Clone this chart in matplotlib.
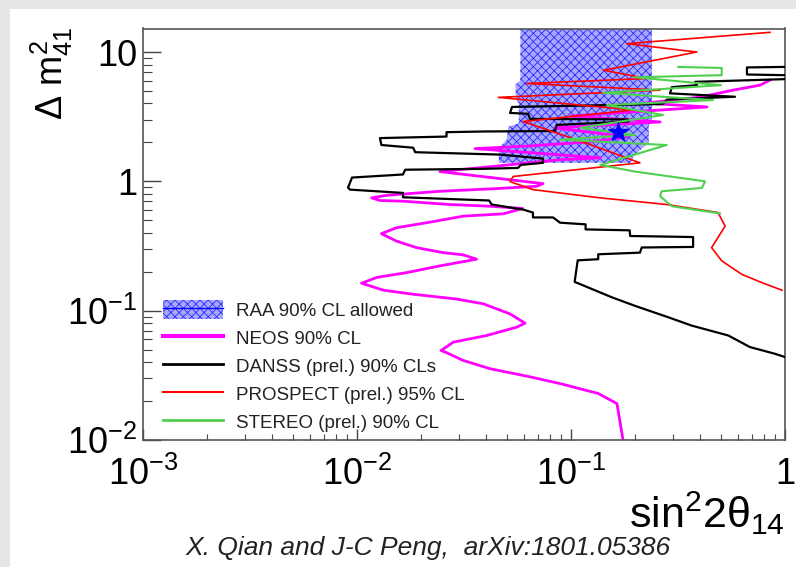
import numpy as np
import matplotlib
matplotlib.use('Agg')
import matplotlib.pyplot as plt
from matplotlib.patches import Patch, Rectangle
from matplotlib.lines import Line2D
from matplotlib.ticker import LogLocator, NullFormatter

# axis ticks
xtick_vals = [1e-3, 1e-2, 1e-1, 1]
xtick_labels = [r'$10^{-3}$', r'$10^{-2}$', r'$10^{-1}$', '1']
ytick_vals = [1e-2, 1e-1, 1, 10]
ytick_labels = [r'$10^{-2}$', r'$10^{-1}$', '1', '10']

# RAA 90% CL allowed region (sin^2 2theta, dm2)
raa_x = [0.058, 0.058, 0.055, 0.0553, 0.057, 0.057, 0.051, 0.050, 0.046, 0.046,
         0.19, 0.195, 0.215, 0.231, 0.231, 0.239, 0.239]
raa_y = [16, 6.0, 5.6, 4.4, 4.0, 2.8, 2.65, 2.1, 1.8, 1.39,
         1.39, 1.55, 1.8, 2.0, 2.7, 3.0, 16]

# NEOS 90% CL
neos_x = [0.175, 0.164, 0.134, 0.0889, 0.0643, 0.0418, 0.0314, 0.0258, 0.0247, 0.0282,
          0.0404, 0.0557, 0.061, 0.0519, 0.0389, 0.0292, 0.0183, 0.0133, 0.0105, 0.0124,
          0.0171, 0.0244, 0.0362, 0.0314, 0.0253, 0.019, 0.0153, 0.013, 0.0153, 0.0212,
          0.0314, 0.0483, 0.0594, 0.0418, 0.0272, 0.0165, 0.0128, 0.0117, 0.0138, 0.0244,
          0.0449, 0.069, 0.074, 0.0244, 0.0466, 0.0889, 0.137, 0.0356, 0.0643, 0.123,
          0.183, 0.0842, 0.261, 0.100, 0.432, 0.222, 0.401, 0.571, 0.764, 0.851]
neos_y = [0.0100, 0.0191, 0.0229, 0.0273, 0.0308, 0.0356, 0.0412, 0.0479, 0.0492, 0.0571,
          0.0643, 0.0745, 0.080, 0.0944, 0.113, 0.123, 0.134, 0.144, 0.163, 0.181,
          0.197, 0.222, 0.250, 0.270, 0.281, 0.307, 0.345, 0.394, 0.438, 0.479,
          0.538, 0.561, 0.617, 0.642, 0.662, 0.702, 0.711, 0.745, 0.780, 0.838,
          0.879, 0.916, 0.96, 1.19, 1.32, 1.47, 1.52, 1.79, 1.88, 2.02,
          2.21, 2.59, 2.88, 3.2, 3.76, 4.03, 4.48, 5.07, 5.54, 6.06]

# DANSS (prel.) 90% CL, nan splits the small island at the upper right
danss_x = [1.0, 0.898, 0.686, 0.543, 0.366, 0.285, 0.199, 0.155, 0.104, 0.1075,
           0.134, 0.134, 0.210, 0.214, 0.372, 0.372, 0.189, 0.188, 0.117, 0.117,
           0.0889, 0.0824, 0.0664, 0.0664, 0.0597, 0.0426, 0.0414, 0.0164, 0.0164, 0.00927,
           0.00908, 0.00948, 0.0164, 0.0168, 0.0396, 0.0565, 0.0583, 0.074, 0.074, 0.0466,
           0.0187, 0.0183, 0.013, 0.0128, 0.0262, 0.0262, 0.0396, 0.0842, 0.0857, 0.185,
           0.185, 0.0643, 0.063, 0.0519, 0.053, 0.269, 0.281, 0.584, 0.290, 0.296,
           0.388, 0.380, 1.0, np.nan, 1.0, 0.664, 0.664, 1.0]
danss_y = [0.0438, 0.0464, 0.0523, 0.0643, 0.0767, 0.0889, 0.109, 0.127, 0.167, 0.245,
           0.250, 0.273, 0.281, 0.308, 0.311, 0.371, 0.378, 0.418, 0.425, 0.465,
           0.479, 0.526, 0.526, 0.574, 0.605, 0.662, 0.711, 0.753, 0.814, 0.863,
           0.895, 1.07, 1.13, 1.23, 1.25, 1.27, 1.34, 1.39, 1.50, 1.61,
           1.68, 1.82, 1.91, 2.16, 2.22, 2.40, 2.43, 2.45, 2.73, 2.90,
           3.01, 3.04, 3.33, 3.38, 3.76, 3.96, 4.29, 4.51, 4.79, 5.35,
           5.54, 5.88, 6.17, np.nan, 7.67, 7.6, 6.70, 6.62]

# PROSPECT (prel.) 95% CL
prospect_x = [0.968, 0.778, 0.628, 0.506, 0.454, 0.525, 0.486, 0.280, 0.137, 0.0664,
              0.0519, 0.0536, 0.210, 0.118, 0.0597, 0.195, 0.0457, 0.261, 0.0621, 0.226,
              0.142, 0.387, 0.182, 0.851]
prospect_y = [0.144, 0.165, 0.191, 0.243, 0.307, 0.451, 0.574, 0.662, 0.745, 0.863,
              0.995, 1.09, 1.39, 1.97, 2.90, 3.56, 4.46, 5.07, 5.71, 6.24,
              7.23, 10.0, 11.6, 14.2]

# STEREO (prel.) 90% CL
stereo_x = [0.497, 0.296, 0.261, 0.265, 0.409, 0.423, 0.199, 0.137, 0.280, 0.0889,
            0.199, 0.110, 0.269, 0.147, 0.461, 0.141, 0.502, 0.199, 0.506, 0.506, 0.317]
stereo_y = [0.565, 0.642, 0.767, 0.838, 0.889, 1.0, 1.19, 1.34, 1.91, 2.10,
            2.29, 2.59, 3.26, 3.89, 4.25, 4.84, 5.54, 6.38, 6.62, 7.53, 7.67]

# RAA best fit
star_x = [0.166]
star_y = [2.41]

labels = ['RAA 90% CL allowed', 'NEOS 90% CL', 'DANSS (prel.) 90% CLs',
          'PROSPECT (prel.) 95% CL', 'STEREO (prel.) 90% CL']

plt.rcParams['font.family'] = ['Liberation Sans', 'DejaVu Sans']
plt.rcParams['mathtext.fontset'] = 'custom'
plt.rcParams['mathtext.rm'] = 'Liberation Sans'
plt.rcParams['mathtext.it'] = 'Liberation Sans'
plt.rcParams['mathtext.bf'] = 'Liberation Sans:bold'
plt.rcParams['hatch.linewidth'] = 0.6

raa_face = '#a8a8ff'
raa_edge = '#2a2aff'

fig = plt.figure(figsize=(7.96, 5.67), dpi=100, facecolor='#e6e6e6')
fig.patches.append(Rectangle((10 / 796, 0), 1, 1 - 9 / 567, transform=fig.transFigure,
                             facecolor='white', edgecolor='none', zorder=-10))
ax = fig.add_axes([143 / 796, 1 - 440 / 567, 642 / 796, 411.5 / 567])

ax.fill(raa_x, raa_y, facecolor=raa_face, hatch='xxxx', edgecolor=raa_edge, linewidth=0, zorder=1)
ax.plot(neos_x, neos_y, color='#ff00ff', lw=2.0, zorder=2)
ax.plot(danss_x, danss_y, color='black', lw=1.6, zorder=3)
ax.plot(prospect_x, prospect_y, color='#ff0000', lw=1.2, zorder=4)
ax.plot(stereo_x, stereo_y, color='#50d050', lw=1.5, zorder=4)
ax.plot(star_x, star_y, marker='*', color='#0000ff', ms=15, ls='none', zorder=5)

ax.set_xscale('log')
ax.set_yscale('log')
ax.set_xlim(1e-3, 1)
ax.set_ylim(1e-2, 15.2)
ax.set_xticks(xtick_vals)
ax.set_xticklabels(xtick_labels)
ax.set_yticks(ytick_vals)
ax.set_yticklabels(ytick_labels)
ax.xaxis.set_minor_locator(LogLocator(subs=np.arange(2, 10)))
ax.yaxis.set_minor_locator(LogLocator(subs=np.arange(2, 10)))
ax.xaxis.set_minor_formatter(NullFormatter())
ax.yaxis.set_minor_formatter(NullFormatter())

ax.tick_params(which='both', direction='in', top=False, right=False, color='#444444')
ax.tick_params(axis='y', which='major', length=13, width=1, pad=4, labelsize=26)
ax.tick_params(axis='y', which='minor', length=6.5, width=0.8)
ax.tick_params(axis='x', which='major', length=8, width=1, pad=12, labelsize=26)
ax.tick_params(axis='x', which='minor', length=4.3, width=0.8)
for s in ax.spines.values():
    s.set_color('#555555')
    s.set_linewidth(1.2)

fig.text(785 / 796, 1 - 490 / 567, r'$\mathrm{sin}^{2}2\theta_{14}$', ha='right', va='top', fontsize=31)
fig.text(52 / 796, 1 - 27 / 567, r'$\Delta\ m^{2}_{41}$', rotation=90, ha='center', va='top', fontsize=26)
fig.text(428 / 796, 1 - 548 / 567, 'X. Qian and J-C Peng,  arXiv:1801.05386',
         ha='center', va='center', style='italic', fontsize=19, color='#222222')

handles = [(Patch(facecolor=raa_face, hatch='xxxx', edgecolor=raa_edge, linewidth=0),
            Line2D([], [], color='#0000ff', lw=1)),
           Line2D([], [], color='#ff00ff', lw=3),
           Line2D([], [], color='black', lw=2),
           Line2D([], [], color='#ff0000', lw=1.5),
           Line2D([], [], color='#50d050', lw=2)]
ax.legend(handles, labels, loc='upper left', bbox_to_anchor=(0.031, 0.34), frameon=False,
          fontsize=13.5, handlelength=3.2, handleheight=1.2, handletextpad=0.7,
          labelspacing=0.43, borderpad=0, borderaxespad=0, labelcolor='#222222')

fig.savefig('out.png', dpi=100, facecolor=fig.get_facecolor())
